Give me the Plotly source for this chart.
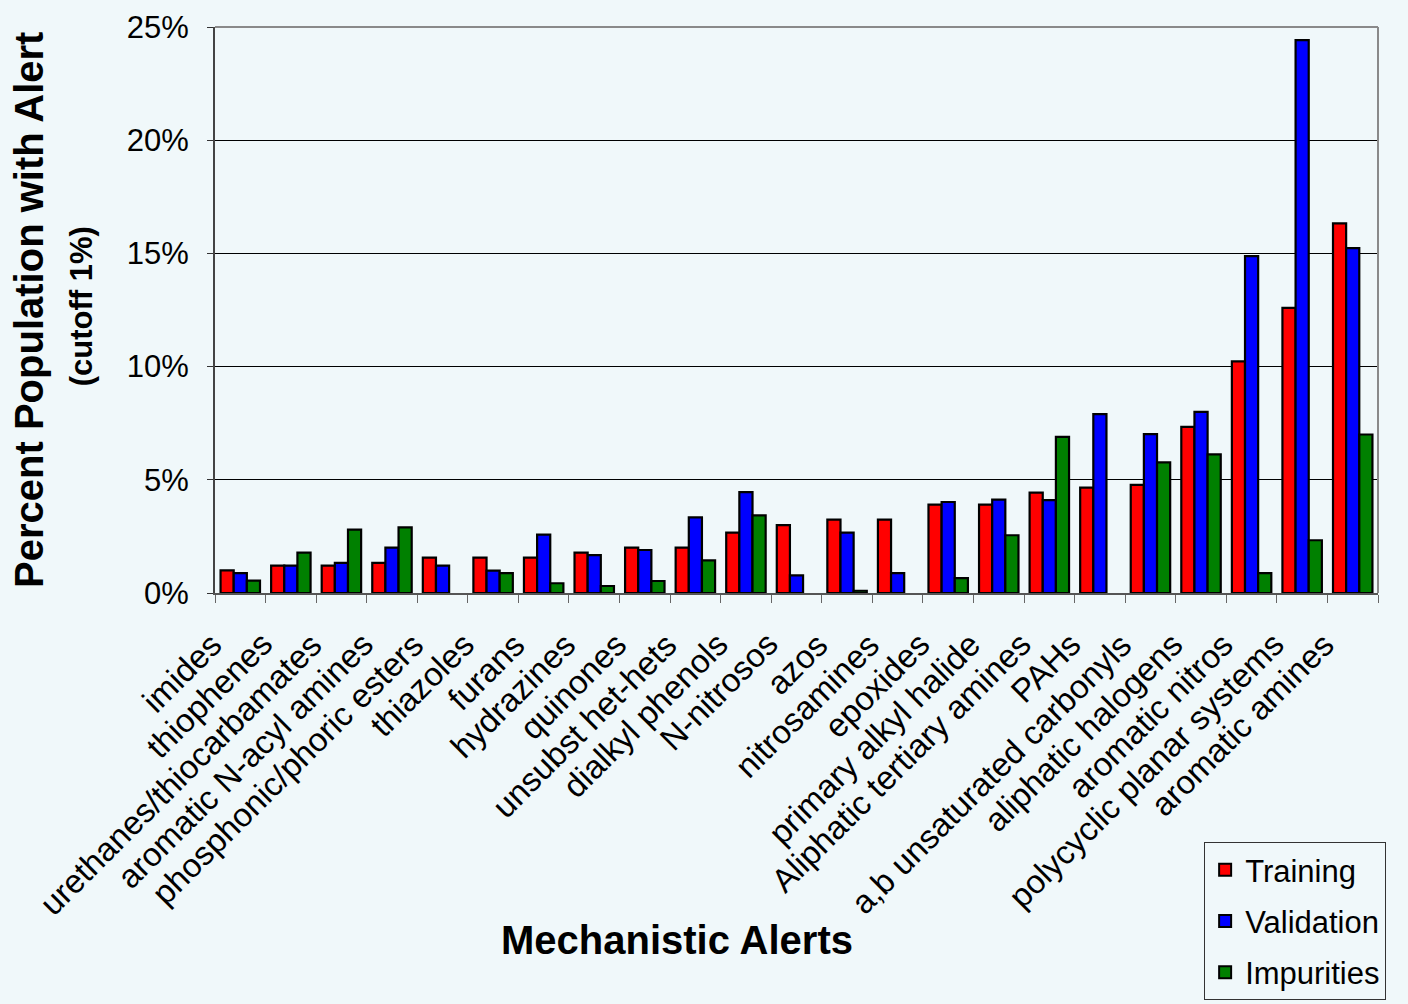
import plotly.graph_objects as go

# Mechanistic alert categories (x axis)
categories = [
    "imides", "thiophenes", "urethanes/thiocarbamates", "aromatic N-acyl amines",
    "phosphonic/phoric esters", "thiazoles", "furans", "hydrazines", "quinones",
    "unsubst het-hets", "dialkyl phenols", "N-nitrosos", "azos", "nitrosamines",
    "epoxides", "primary alkyl halide", "Aliphatic tertiary amines", "PAHs",
    "a,b unsaturated carbonyls", "aliphatic halogens", "aromatic nitros",
    "polycyclic planar systems", "aromatic amines",
]

# Percent of each population carrying the alert
training = [1.0, 1.21, 1.21, 1.33, 1.56, 1.56, 1.56, 1.78, 2.0, 2.0, 2.67, 3.0,
            3.24, 3.24, 3.9, 3.9, 4.43, 4.65, 4.78, 7.34, 10.23, 12.59, 16.33]
validation = [0.88, 1.21, 1.33, 2.0, 1.21, 0.99, 2.58, 1.67, 1.9, 3.34, 4.46, 0.78,
              2.67, 0.88, 4.02, 4.12, 4.1, 7.9, 7.02, 8.0, 14.88, 24.42, 15.23]
impurities = [0.55, 1.78, 2.8, 2.9, None, 0.88, 0.43, 0.31, 0.53, 1.44, 3.43, None,
              0.1, None, 0.66, 2.55, 6.9, None, 5.77, 6.12, 0.88, 2.33, 7.0]

series = [
    ("Training", training, "#FF0000"),
    ("Validation", validation, "#0000FF"),
    ("Impurities", impurities, "#008000"),
]

y_ticks = [0, 5, 10, 15, 20, 25]
y_tick_text = ["0%", "5%", "10%", "15%", "20%", "25%"]

BG = "#F0F8FA"
FONT = "Liberation Sans, Arial, sans-serif"

fig = go.Figure()
for name, vals, color in series:
    fig.add_trace(go.Bar(
        name=name, x=categories, y=vals, legendgroup=name,
        marker=dict(color=color, line=dict(color="black", width=2.2)),
    ))

fig.update_layout(
    width=1408, height=1004,
    margin=dict(l=215, r=30, t=27, b=411, autoexpand=False),
    paper_bgcolor=BG, plot_bgcolor=BG,
    font=dict(family=FONT, size=31, color="black"),
    barmode="group", bargap=0.22, bargroupgap=0,
    showlegend=True,
    legend=dict(
        x=0.8505, y=-0.4400, xanchor="left", yanchor="top",
        bgcolor=BG, bordercolor="#333333", borderwidth=1,
        font=dict(size=31), itemsizing="constant", tracegroupgap=8,
        entrywidth=175, entrywidthmode="pixels",
    ),
)

fig.update_xaxes(
    type="category", range=[-0.5, len(categories) - 0.5],
    tickson="boundaries", showticklabels=False,
    ticks="outside", ticklen=8, tickcolor="#666666", tickwidth=1,
    showline=True, linecolor="#555555", linewidth=2,
    showgrid=False,
)
fig.update_yaxes(
    range=[0, 25], tickvals=y_ticks, ticktext=y_tick_text,
    ticks="outside", ticklen=6, tickcolor="#333333", ticklabelstandoff=12,
    showline=True, linecolor="#444444", linewidth=2,
    showgrid=True, gridcolor="black", gridwidth=1,
    zeroline=False, tickfont=dict(size=31),
)

# Slanted category labels hanging below each group
for cat in categories:
    fig.add_annotation(
        text=cat, x=cat, y=0, xref="x", yref="y",
        xanchor="right", yanchor="top", textangle=-45,
        xshift=-9, yshift=-30, showarrow=False, font=dict(size=33),
    )

# Gray frame on top and right edges of the plotting area
fig.add_shape(type="line", xref="paper", yref="paper", x0=0, x1=1, y0=1, y1=1,
              line=dict(color="#8a8a8a", width=2))
fig.add_shape(type="line", xref="paper", yref="paper", x0=1, x1=1, y0=0, y1=1,
              line=dict(color="#8a8a8a", width=2))

# Axis titles
fig.add_annotation(
    text="<b>Percent Population with Alert</b>", xref="paper", yref="paper",
    x=-0.160, y=0.5, xanchor="center", yanchor="middle", textangle=-90,
    showarrow=False, font=dict(size=40),
)
fig.add_annotation(
    text="<b>(cutoff 1%)</b>", xref="paper", yref="paper",
    x=-0.115, y=0.507, xanchor="center", yanchor="middle", textangle=-90,
    showarrow=False, font=dict(size=31),
)
fig.add_annotation(
    text="<b>Mechanistic Alerts</b>", xref="paper", yref="paper",
    x=0.397, y=-0.613, xanchor="center", yanchor="middle",
    showarrow=False, font=dict(size=40),
)

fig.write_html("out.html")
